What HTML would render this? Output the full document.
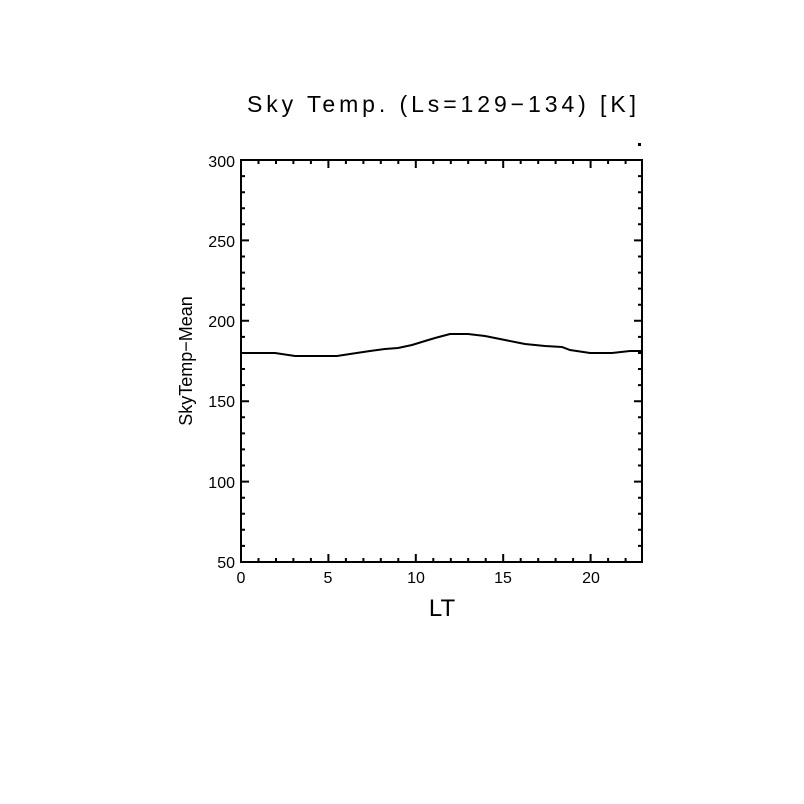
<!DOCTYPE html><html><head><style>body{margin:0;background:#fff}svg{display:block}</style></head><body>
<svg width="804" height="804" xmlns="http://www.w3.org/2000/svg" font-family="Liberation Sans, sans-serif">
<rect width="804" height="804" fill="#fff"/>
<text x="247" y="112" font-size="23" textLength="389" lengthAdjust="spacing">Sky Temp. (Ls=129−134) [K]</text>
<rect x="638" y="143" width="3" height="3" fill="#000"/>
<g stroke="#000" stroke-width="2" fill="none">
<rect x="241" y="160" width="401" height="402"/>
<path d="
M258.5,562v-4M276,562v-4M293.4,562v-4M310.9,562v-4M328.4,562v-8M345.9,562v-4M363.4,562v-4M380.8,562v-4M398.3,562v-4M415.8,562v-8M433.3,562v-4M450.8,562v-4M468.2,562v-4M485.7,562v-4M503.2,562v-8M520.7,562v-4M538.2,562v-4M555.6,562v-4M573.1,562v-4M590.6,562v-8M608.1,562v-4M625.6,562v-4
M258.5,160v4M276,160v4M293.4,160v4M310.9,160v4M328.4,160v8M345.9,160v4M363.4,160v4M380.8,160v4M398.3,160v4M415.8,160v8M433.3,160v4M450.8,160v4M468.2,160v4M485.7,160v4M503.2,160v8M520.7,160v4M538.2,160v4M555.6,160v4M573.1,160v4M590.6,160v8M608.1,160v4M625.6,160v4"/>
<path d="M241,545.9h4M241,529.8h4M241,513.8h4M241,497.7h4M241,481.6h8M241,465.5h4M241,449.4h4M241,433.4h4M241,417.3h4M241,401.2h8M241,385.1h4M241,369h4M241,353h4M241,336.9h4M241,320.8h8M241,304.7h4M241,288.6h4M241,272.6h4M241,256.5h4M241,240.4h8M241,224.3h4M241,208.2h4M241,192.2h4M241,176.1h4
M642,545.9h-4M642,529.8h-4M642,513.8h-4M642,497.7h-4M642,481.6h-8M642,465.5h-4M642,449.4h-4M642,433.4h-4M642,417.3h-4M642,401.2h-8M642,385.1h-4M642,369h-4M642,353h-4M642,336.9h-4M642,320.8h-8M642,304.7h-4M642,288.6h-4M642,272.6h-4M642,256.5h-4M642,240.4h-8M642,224.3h-4M642,208.2h-4M642,192.2h-4M642,176.1h-4"/>
<path d="M241,353L275,353L295,356L337,356L350,354L370,351L385,349L398,348L412,345L425,341L435,338L450,334L468,334L485,336L505,340L525,344L545,346L562,347L570,350L590,353L612,353L630,351L642,351" stroke-width="2"/>
</g>
<g font-size="16" text-anchor="middle">
<text x="241" y="583">0</text><text x="328" y="583">5</text><text x="416" y="583">10</text><text x="503" y="583">15</text><text x="591" y="583">20</text>
</g>
<g font-size="16" text-anchor="end">
<text x="235" y="568">50</text><text x="235" y="488">100</text><text x="235" y="407">150</text><text x="235" y="327">200</text><text x="235" y="247">250</text><text x="235" y="167">300</text>
</g>
<text x="442" y="616" font-size="24" text-anchor="middle">LT</text>
<text transform="translate(192,361) rotate(-90)" font-size="18" text-anchor="middle">SkyTemp−Mean</text>
</svg></body></html>
